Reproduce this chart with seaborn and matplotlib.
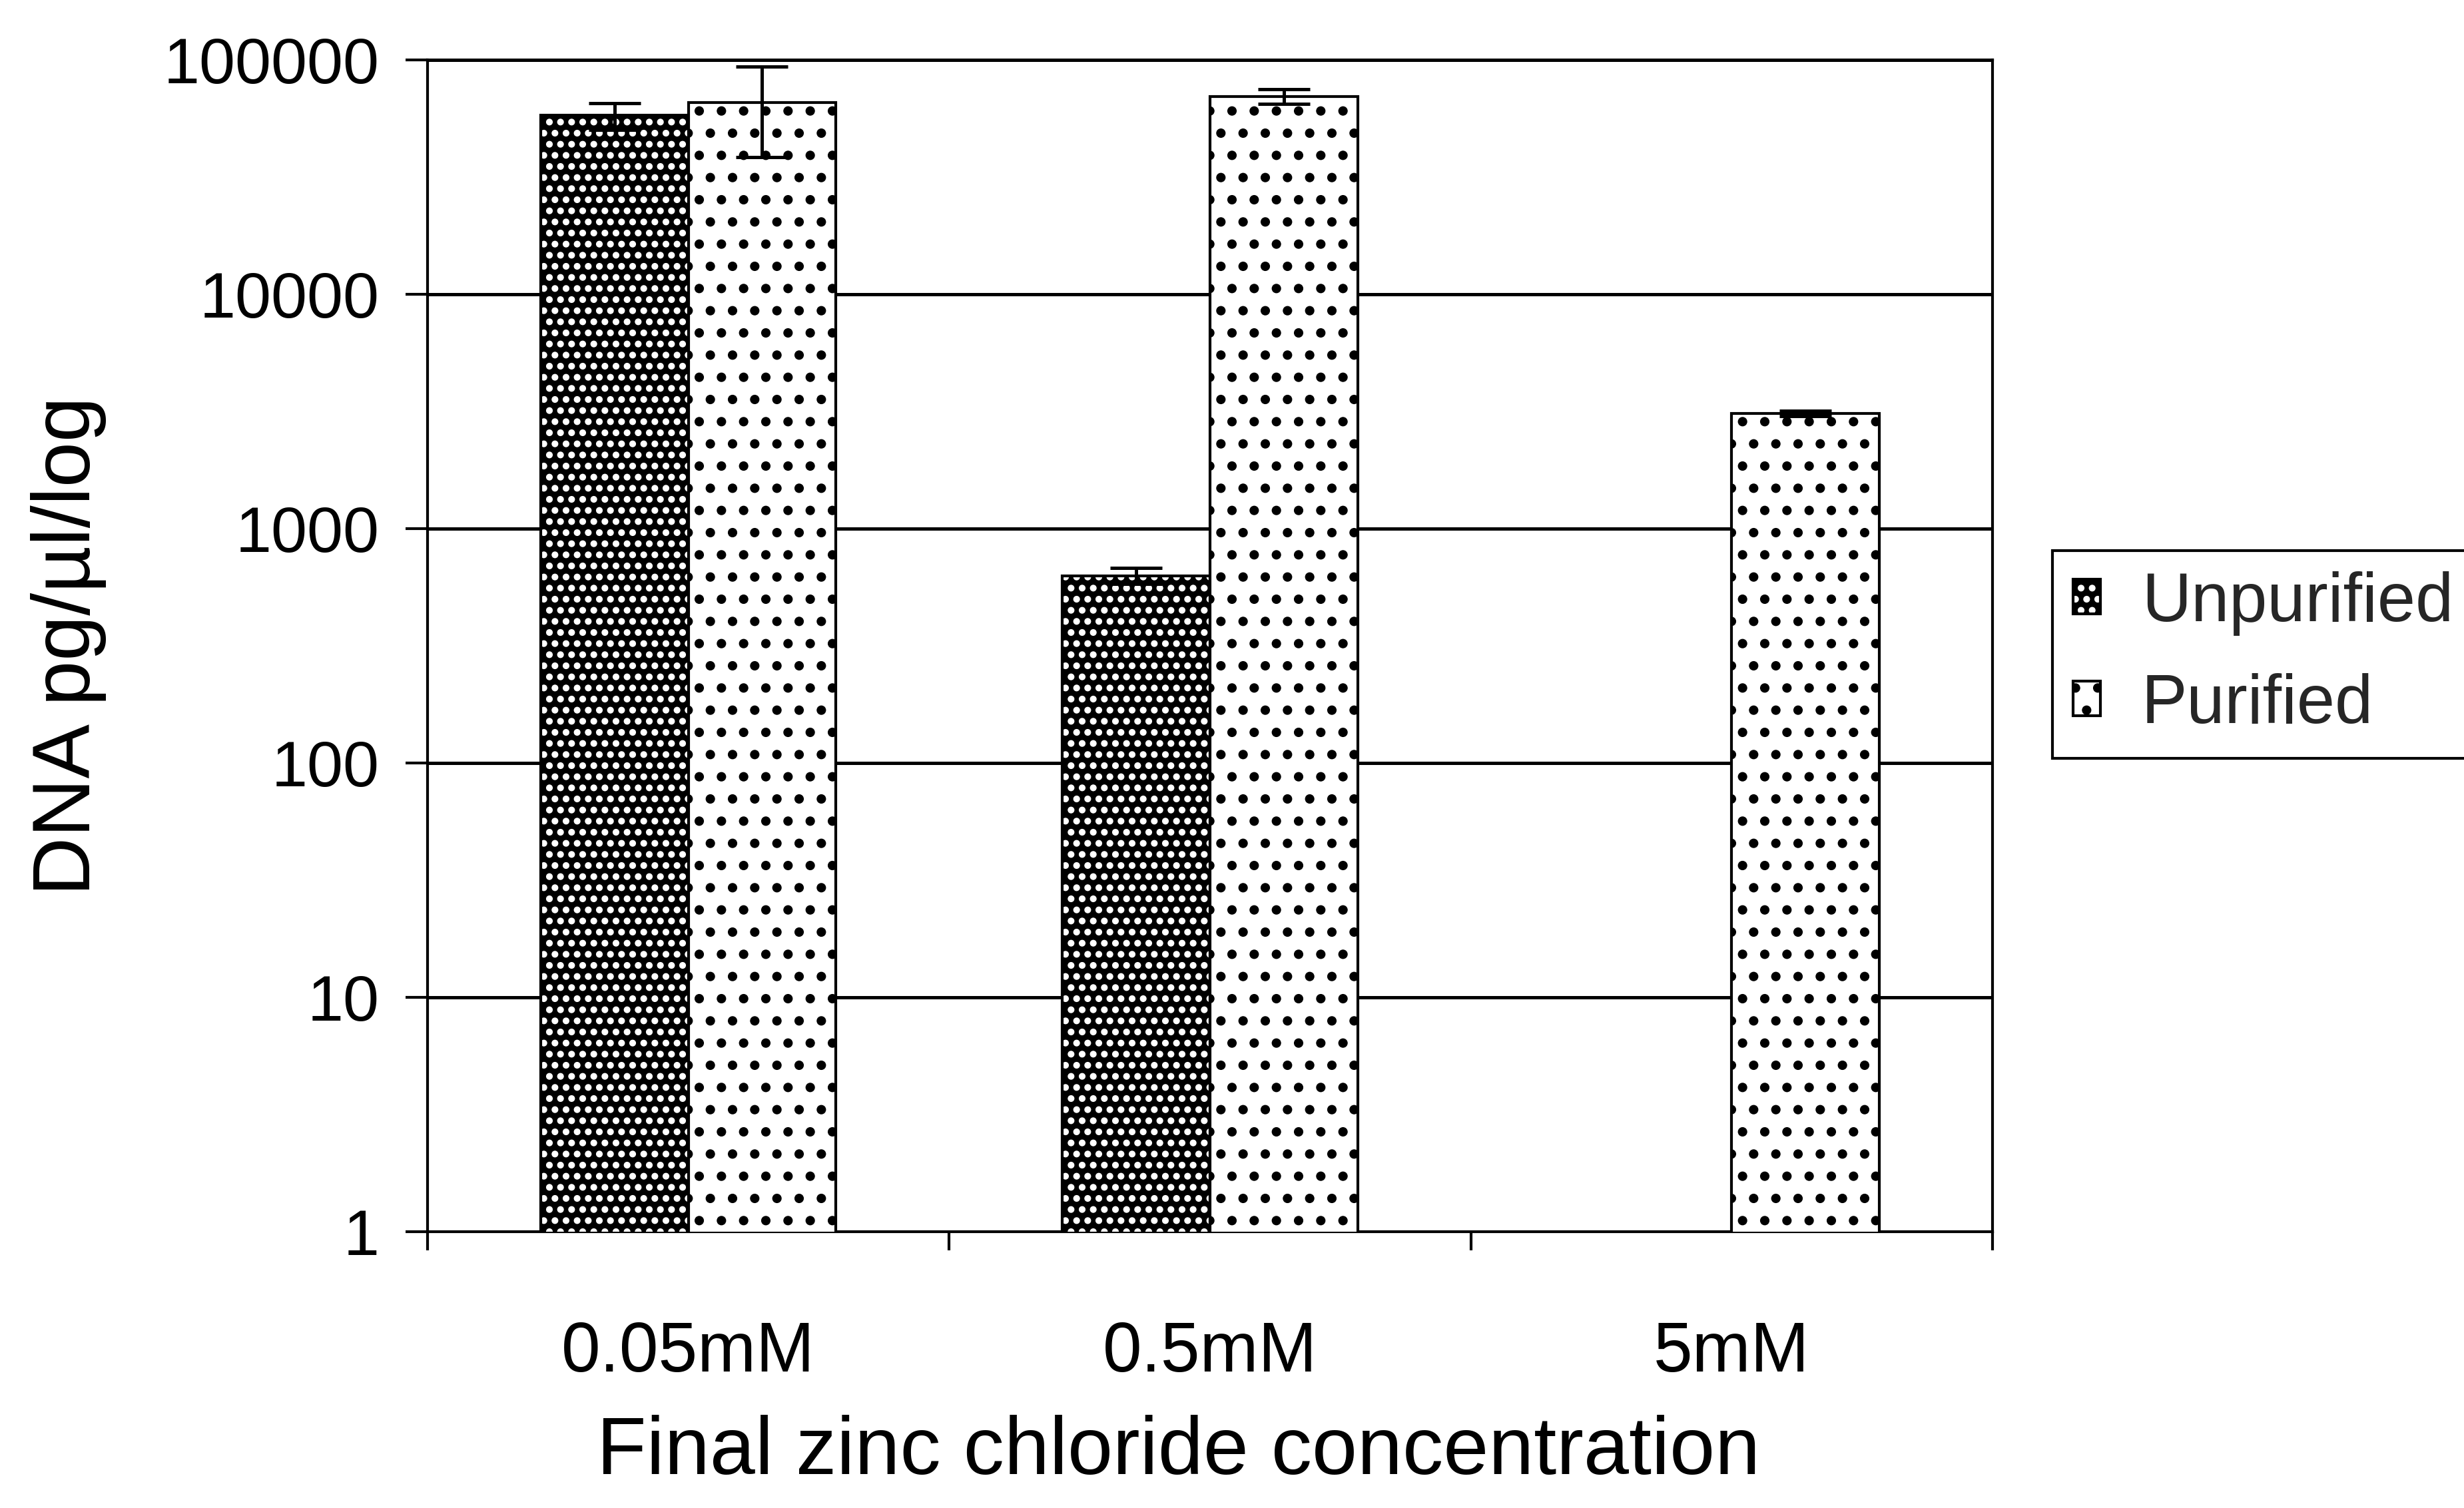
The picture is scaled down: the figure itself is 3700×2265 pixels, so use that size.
import numpy as np
import pandas as pd
import matplotlib
matplotlib.use('Agg')
import matplotlib.pyplot as plt
import matplotlib.hatch as mhatch
import matplotlib.colors as mcolors
from matplotlib.ticker import FixedLocator, NullFormatter, FixedFormatter, NullLocator
import seaborn as sns

# ---------------- data ----------------
categories = ['0.05mM', '0.5mM', '5mM']
series = ['Unpurified', 'Purified']
unpurified = [58000, 630, np.nan]
unpurified_err = [7600, 50, np.nan]
purified = [66000, 70000, 3100]
purified_err = [27500, 5000, 80]
ytick_values = [1, 10, 100, 1000, 10000, 100000]
ytick_labels = ['1', '10', '100', '1000', '10000', '100000']
xlabel = 'Final zinc chloride concentration'
ylabel = 'DNA pg/µl/log'

# ---------------- style ----------------
DPI = 200
sns.set_theme(style='white')
plt.rcParams['font.family'] = ['Liberation Sans', 'DejaVu Sans']
plt.rcParams['hatch.linewidth'] = 1.0
# bigger dot hatches, like the printed screen tones
mhatch.SmallFilledCircles.size = 0.17
mhatch.SmallCircles.filled = True
mhatch.SmallCircles.size = 0.22

df = pd.DataFrame({
    'conc': categories * 2,
    'value': unpurified + purified,
    'type': [series[0]] * len(categories) + [series[1]] * len(categories),
})
err_map = {}
for c, e in zip(categories, unpurified_err):
    err_map[(0, categories.index(c))] = e
for c, e in zip(categories, purified_err):
    err_map[(1, categories.index(c))] = e

fig = plt.figure(figsize=(3700 / DPI, 2265 / DPI), dpi=DPI)
ax = fig.add_axes([0.1735, 0.1832, 0.6351, 0.7770])

sns.barplot(data=df, x='conc', y='value', hue='type', order=categories,
            hue_order=series, palette=['black', 'white'], edgecolor='black',
            linewidth=1.5, width=0.566, gap=0, errorbar=None, legend=False,
            ax=ax, zorder=3)
ax.set_yscale('log')

bar_containers = list(ax.containers)
for p in bar_containers[0]:
    p.set_facecolor('black')
    p.set_edgecolor('black')
    p.set_hatch('oo')
    p._hatch_color = mcolors.to_rgba('white')
for p in bar_containers[1]:
    p.set_facecolor('white')
    p.set_edgecolor('black')
    p.set_hatch('.')

# error bars at the library-computed bar centres
for si, cont in enumerate(bar_containers):
    for p in cont:
        h = p.get_height()
        if not np.isfinite(h) or h <= 0:
            continue
        cx = p.get_x() + p.get_width() / 2
        ci = int(round(cx))
        e = err_map.get((si, ci), np.nan)
        if not np.isfinite(e):
            continue
        ax.errorbar([cx], [h], yerr=[e], fmt='none', ecolor='black',
                    elinewidth=1.8, capsize=14, capthick=1.8, zorder=5)

ax.set_ylim(1, 100000)
ax.set_xlim(-0.5, len(categories) - 0.5)

# y axis
ax.yaxis.set_major_locator(FixedLocator(ytick_values))
ax.yaxis.set_major_formatter(FixedFormatter(ytick_labels))
ax.yaxis.set_minor_locator(NullLocator())
ax.tick_params(axis='y', which='major', direction='out', length=12, width=1.5,
               left=True, labelsize=35, pad=14, colors='black')
ax.yaxis.grid(True, color='black', linewidth=1.8, zorder=0)
ax.set_axisbelow(True)

# x axis: ticks at category boundaries, labels at centres
ax.xaxis.set_major_locator(FixedLocator(np.arange(len(categories) + 1) - 0.5))
ax.xaxis.set_major_formatter(NullFormatter())
ax.xaxis.set_minor_locator(FixedLocator(np.arange(len(categories))))
ax.xaxis.set_minor_formatter(FixedFormatter(categories))
ax.tick_params(axis='x', which='major', direction='out', length=10, width=1.5,
               bottom=True, colors='black')
ax.tick_params(axis='x', which='minor', length=0, labelsize=38, pad=48,
               labelcolor='black')

for s in ax.spines.values():
    s.set_visible(True)
    s.set_color('black')
    s.set_linewidth(1.5)

ax.set_xlabel(xlabel, fontsize=44, color='black')
ax.xaxis.set_label_coords(0.48, -0.156)
ax.set_ylabel(ylabel, fontsize=44, color='black')
ax.yaxis.set_label_coords(-0.205, 0.5)

handles = [c.patches[0] for c in bar_containers]
leg = fig.legend(handles, series, loc='upper left', bbox_to_anchor=(0.833, 0.635),
                 fontsize=37, frameon=True, fancybox=False, edgecolor='black',
                 framealpha=1, borderaxespad=0, handlelength=0.4, handleheight=0.4,
                 handletextpad=0.6, labelspacing=0.55, borderpad=0.3)
leg.get_frame().set_linewidth(1.5)

fig.savefig('out.png', dpi=DPI, facecolor='white')
